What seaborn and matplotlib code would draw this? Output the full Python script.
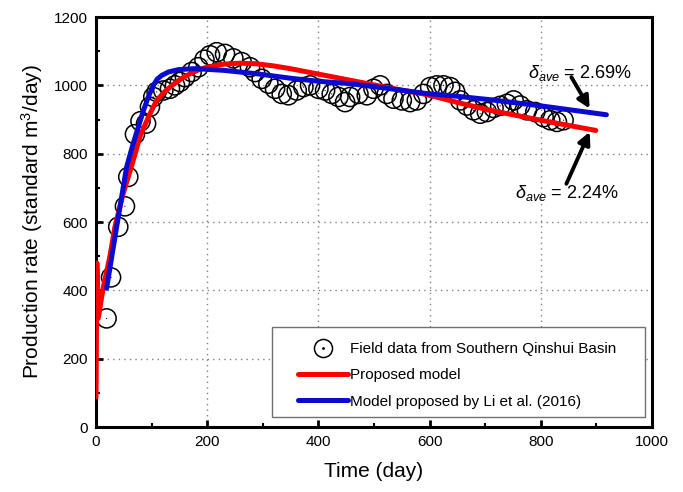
import matplotlib
matplotlib.use("Agg")
import matplotlib.pyplot as plt
import seaborn as sns
import pandas as pd
from matplotlib.lines import Line2D
from matplotlib.patches import Rectangle
from matplotlib.ticker import MultipleLocator

# ---------------- data ----------------
field_t = [19, 27, 40, 52, 58, 70, 80, 90, 97, 103, 109, 121, 133, 142, 151, 160, 172, 184,
           195, 205, 217, 232, 247, 262, 277, 286, 298, 310, 322, 334, 346, 361, 373, 385,
           400, 412, 424, 436, 448, 457, 472, 487, 499, 511, 523, 535, 550, 565, 577, 589,
           601, 613, 625, 637, 646, 655, 667, 679, 691, 703, 715, 727, 739, 751, 763, 775,
           790, 805, 817, 829, 841]
field_q = [318, 438, 586, 646, 732, 857, 895, 888, 937, 966, 981, 985, 990, 1000, 1010, 1024,
           1039, 1053, 1075, 1088, 1097, 1092, 1079, 1068, 1053, 1039, 1019, 1005, 990, 975,
           971, 985, 995, 1000, 990, 985, 975, 966, 951, 966, 975, 971, 990, 1000, 975, 961,
           956, 951, 956, 975, 995, 1000, 1000, 995, 981, 956, 941, 927, 917, 922, 934, 940,
           946, 956, 941, 927, 922, 907, 898, 893, 898]

proposed_t = [0, 1.5, 4, 13, 25, 34, 49, 67, 79, 95, 109, 124, 139, 154, 169, 184, 199, 229,
              259, 289, 319, 349, 400, 457, 520, 595, 650, 709, 800, 899]
proposed_q = [88, 480, 318, 409, 500, 586, 684, 781, 850, 910, 956, 982, 1003, 1020, 1034,
              1045, 1053, 1062, 1065, 1063, 1057, 1049, 1033, 1015, 995, 973, 950, 927, 898, 868]

li_t = [19, 37, 55, 66, 76, 85, 94, 103, 110, 118, 130, 148, 178, 229, 289, 349, 400, 457,
        520, 595, 650, 709, 800, 918]
li_q = [406, 585, 761, 825, 878, 925, 966, 1000, 1018, 1029, 1039, 1046, 1049, 1044, 1034,
        1021, 1012, 1005, 992, 976, 968, 958, 940, 914]

x_ticks = [0, 200, 400, 600, 800, 1000]
y_ticks = [0, 200, 400, 600, 800, 1000, 1200]

lbl_field = "Field data from Southern Qinshui Basin"
lbl_prop = "Proposed model"
lbl_li = "Model proposed by Li et al. (2016)"
ann_upper = r"$\delta_{ave}$ = 2.69%"
ann_lower = r"$\delta_{ave}$ = 2.24%"

# ---------------- style ----------------
sns.set_theme(style="white")
plt.rcParams["font.family"] = ["Liberation Sans", "DejaVu Sans"]
plt.rcParams["mathtext.fontset"] = "custom"
plt.rcParams["mathtext.rm"] = "Liberation Sans"
plt.rcParams["mathtext.it"] = "Liberation Sans:italic"
plt.rcParams["mathtext.bf"] = "Liberation Sans:bold"
for k in ["text.color", "axes.labelcolor", "xtick.color", "ytick.color"]:
    plt.rcParams[k] = "black"

RED = "#ff0000"
BLUE = "#0a0ad0"

fig = plt.figure(figsize=(6.83, 4.92), dpi=100)
ax = fig.add_axes([0.1406, 0.132, 0.8140, 0.8334])

df_field = pd.DataFrame({"t": field_t, "q": field_q})
df_prop = pd.DataFrame({"t": proposed_t, "q": proposed_q})
df_li = pd.DataFrame({"t": li_t, "q": li_q})

sns.scatterplot(data=df_field, x="t", y="q", ax=ax, marker="o", s=190,
                facecolors="none", edgecolor="black", linewidth=1.1, zorder=2)
sns.scatterplot(data=df_field, x="t", y="q", ax=ax, marker=".", s=3,
                color="black", edgecolor="none", zorder=2)
sns.lineplot(data=df_prop, x="t", y="q", ax=ax, color=RED, lw=3.6, sort=False,
             estimator=None, zorder=3)
sns.lineplot(data=df_li, x="t", y="q", ax=ax, color=BLUE, lw=3.6, sort=False,
             estimator=None, zorder=4)

ax.set_xlim(0, 1000)
ax.set_ylim(0, 1200)
ax.set_xticks(x_ticks)
ax.set_yticks(y_ticks)
ax.xaxis.set_minor_locator(MultipleLocator(100))
ax.yaxis.set_minor_locator(MultipleLocator(100))
ax.tick_params(which="major", direction="in", length=5, width=2, labelsize=11,
               top=False, right=False, bottom=True, left=True, pad=6, colors="black")
ax.tick_params(which="minor", direction="in", length=3, width=1.5,
               top=False, right=False, bottom=True, left=True)
ax.grid(True, which="major", linestyle=(0, (1, 3)), color="#808080", linewidth=1)
for sp in ax.spines.values():
    sp.set_linewidth(2.2)
    sp.set_color("black")

ax.set_xlabel("Time (day)", fontsize=15, labelpad=9)
ax.set_ylabel("Production rate (standard m$^3$/day)", fontsize=15, labelpad=6)

# annotations
ax.text(777, 1035, ann_upper, fontsize=13, va="center", ha="left", color="black")
ax.text(754, 684, ann_lower, fontsize=13, va="center", ha="left", color="black")
ax.annotate("", xy=(888, 932), xytext=(855, 1024),
            arrowprops=dict(arrowstyle="-|>", lw=2.8, color="black", mutation_scale=18,
                            shrinkA=0, shrinkB=0))
ax.annotate("", xy=(888, 864), xytext=(846, 712),
            arrowprops=dict(arrowstyle="-|>", lw=2.8, color="black", mutation_scale=18,
                            shrinkA=0, shrinkB=0))

# legend
h_field = (Line2D([], [], marker="o", ms=13, mfc="none", mec="black", mew=1.1, ls="none"),
           Line2D([], [], marker=".", ms=2, color="black", ls="none"))
h_prop = Line2D([], [], color=RED, lw=3.6)
h_li = Line2D([], [], color=BLUE, lw=3.6)
leg = ax.legend([h_field, h_prop, h_li], [lbl_field, lbl_prop, lbl_li],
                loc="upper left", bbox_to_anchor=(0.363, 0.207), frameon=False,
                fontsize=11, handlelength=3.3, handletextpad=0.1, labelspacing=0.8,
                borderpad=0.0, borderaxespad=0.0)
for t in leg.get_texts():
    t.set_color("black")
ax.add_patch(Rectangle((0.316, 0.024), 0.671, 0.220, transform=ax.transAxes,
                       facecolor="white", edgecolor="#707070", lw=1.0, zorder=5))
leg.set_zorder(6)

fig.savefig("out.png", dpi=100)
